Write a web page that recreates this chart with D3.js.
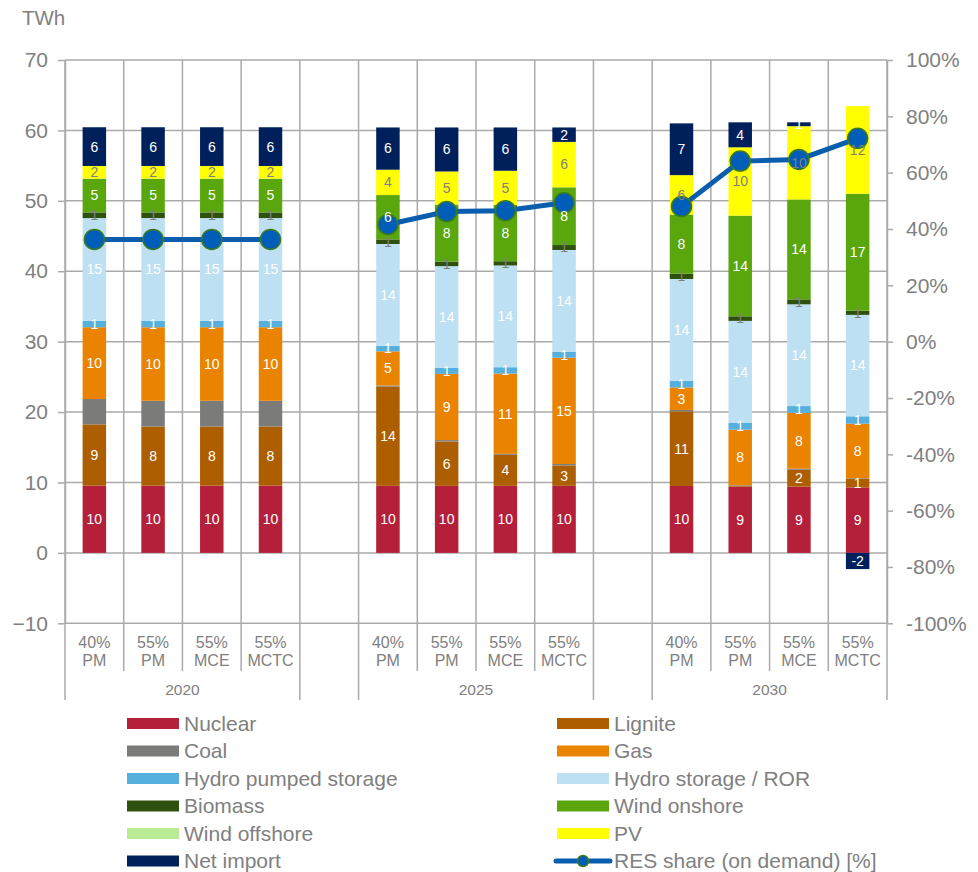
<!DOCTYPE html>
<html>
<head>
<meta charset="utf-8">
<script src="https://cdn.jsdelivr.net/npm/d3@7"></script>
<style>
  html, body { margin: 0; padding: 0; background: #fff; }
  svg { display: block; font-family: "Liberation Sans", Arial, sans-serif; }
</style>
</head>
<body>
<svg id="chart" width="978" height="872"></svg>
<script>
// ---------- DATA ----------
const years = ["2020", "2025", "2030"];
const scenarioTop = ["40%", "55%", "55%", "55%"];
const scenarioBottom = ["PM", "PM", "MCE", "MCTC"];

const seriesKeys = ["nuclear", "lignite", "coal", "gas", "hps", "hydro", "biomass", "windOn", "windOff", "pv", "netImport"];
const seriesNames = ["Nuclear", "Lignite", "Coal", "Gas", "Hydro pumped storage", "Hydro storage / ROR",
                     "Biomass", "Wind onshore", "Wind offshore", "PV", "Net import"];
const seriesColors = ["#B41F3A", "#AD5F00", "#7B7B79", "#E98300", "#56B0DE", "#BDE0F2",
                      "#2E5110", "#59A60D", "#B8EB94", "#FFFF00", "#00205B"];

// 12 bars: 2020 (40% PM, 55% PM, 55% MCE, 55% MCTC), 2025 (...), 2030 (...)
const nuclear   = [9.55, 9.55, 9.55, 9.55, 9.52, 9.52, 9.52, 9.52, 9.5, 9.4, 9.4, 9.3];
const lignite   = [8.7, 8.4, 8.4, 8.4, 14.1, 6.3, 4.4, 2.9, 10.6, 0.1, 2.4, 1.2];
const coal      = [3.6, 3.65, 3.65, 3.65, 0.15, 0.2, 0.15, 0.2, 0.2, 0.1, 0.15, 0.1];
const gas       = [10.2, 10.45, 10.45, 10.45, 4.85, 9.4, 11.4, 15.1, 3.2, 7.9, 7.95, 7.75];
const hps       = [0.9, 0.9, 0.9, 0.9, 0.8, 0.85, 0.9, 0.85, 0.95, 1.0, 0.95, 1.05];
const hydro     = [14.6, 14.6, 14.6, 14.6, 14.45, 14.45, 14.45, 14.45, 14.45, 14.45, 14.45, 14.4];
const biomass   = [0.8, 0.8, 0.8, 0.8, 0.65, 0.65, 0.6, 0.7, 0.75, 0.65, 0.7, 0.6];
const windOn    = [4.8, 4.8, 4.8, 4.8, 6.3, 8.1, 8.0, 8.2, 8.4, 14.3, 14.2, 16.6];
const windOff   = [0, 0, 0, 0, 0, 0, 0, 0, 0, 0, 0, 0];
const pv        = [1.8, 1.8, 1.8, 1.8, 3.6, 4.7, 4.85, 6.45, 5.6, 9.7, 10.4, 12.45];
const netImport = [5.5, 5.5, 5.5, 5.5, 6.0, 6.25, 6.15, 2.05, 7.35, 3.55, 0.55, -2.3];
const resShare  = [36.3, 36.3, 36.3, 36.3, 41.6, 46.2, 46.5, 49.3, 48.0, 64.1, 64.7, 72.2];

const leftTicks = [-10, 0, 10, 20, 30, 40, 50, 60, 70];
const rightTicks = [-100, -80, -60, -40, -20, 0, 20, 40, 60, 80, 100];
const unitLabel = "TWh";
const resLegendLabel = "RES share (on demand) [%]";
const noLabelSeries = ["coal", "windOff"];
const grayLabelSeries = ["pv", "biomass"];

// ---------- LAYOUT ----------
const svg = d3.select("#chart");
const X0 = 65, X1 = 887, YTOP = 60, YBOT = 623.3;
const gridColor = "#AAAAAA";
const textColor = "#808080";

const slots = [];
const barKeys = [];
years.forEach((yr, gi) => {
  scenarioTop.forEach((s, si) => { const k = yr + "|" + si; slots.push(k); barKeys.push(k); });
  if (gi < years.length - 1) slots.push("gap" + gi);
});

const x = d3.scaleBand().domain(slots).range([X0, X1]).paddingInner(0.6).paddingOuter(0.3);
const step = x.step(), bw = x.bandwidth();
const y = d3.scaleLinear().domain([-10, 70]).range([YBOT, YTOP]);
const y2 = d3.scaleLinear().domain([-100, 100]).range([YBOT, YTOP]);

const seriesArrays = { nuclear, lignite, coal, gas, hps, hydro, biomass, windOn, windOff, pv, netImport };
const rows = barKeys.map((k, i) => {
  const r = { key: k };
  seriesKeys.forEach(s => r[s] = seriesArrays[s][i]);
  return r;
});
const stacked = d3.stack().keys(seriesKeys).offset(d3.stackOffsetDiverging)(rows);
const color = d3.scaleOrdinal().domain(seriesKeys).range(seriesColors);

// ---------- GRID ----------
const grid = svg.append("g");
grid.selectAll("line.h").data(leftTicks).join("line")
  .attr("x1", X0).attr("x2", X1)
  .attr("y1", d => y(d)).attr("y2", d => y(d))
  .attr("stroke", gridColor).attr("stroke-width", 1.5);

// slot boundaries
const bounds = slots.map(s => x(s) + bw / 2 - step / 2);
bounds.push(X1);
const groupBounds = new Set();
groupBounds.add(0); groupBounds.add(slots.length);
slots.forEach((s, i) => { if (s.startsWith("gap")) { groupBounds.add(i); groupBounds.add(i + 1); } });
grid.selectAll("line.v").data(bounds).join("line")
  .attr("x1", d => d).attr("x2", d => d)
  .attr("y1", YTOP)
  .attr("y2", (d, i) => groupBounds.has(i) ? 700 : 671)
  .attr("stroke", gridColor).attr("stroke-width", 1.5);

// ---------- AXES ----------
const leftAxis = svg.append("g").attr("transform", `translate(${X0},0)`)
  .call(d3.axisLeft(y).tickValues(leftTicks).tickSizeInner(7).tickSizeOuter(0).tickPadding(10));
const rightAxis = svg.append("g").attr("transform", `translate(${X1},0)`)
  .call(d3.axisRight(y2).tickValues(rightTicks).tickSizeInner(6).tickSizeOuter(0).tickPadding(13).tickFormat(d => d + "%"));
[leftAxis, rightAxis].forEach(a => {
  a.select(".domain").attr("stroke", gridColor).attr("stroke-width", 1.5);
  a.selectAll(".tick line").attr("stroke", gridColor).attr("stroke-width", 1.5);
  a.selectAll(".tick text").attr("fill", textColor).attr("font-size", 21)
    .attr("font-family", "'Liberation Sans', Arial, sans-serif");
});

svg.append("text").attr("x", 22).attr("y", 25).attr("fill", textColor)
  .attr("font-size", 20.5).text(unitLabel);

// ---------- BARS ----------
const barsG = svg.append("g");
barsG.selectAll("g.series").data(stacked).join("g")
  .attr("fill", d => color(d.key))
  .selectAll("rect").data(d => d).join("rect")
  .attr("x", d => x(d.data.key))
  .attr("width", bw)
  .attr("y", d => y(Math.max(d[0], d[1])))
  .attr("height", d => Math.abs(y(d[0]) - y(d[1])));

// ---------- RES LINE ----------
const lineG = svg.append("g");
const line = d3.line().x(d => x(d.key) + bw / 2).y(d => y2(d.v));
years.forEach((yr, gi) => {
  const pts = barKeys.map((k, i) => ({ key: k, v: resShare[i] })).filter(p => p.key.startsWith(yr + "|"));
  lineG.append("path").attr("d", line(pts)).attr("fill", "none")
    .attr("stroke", "#0B5DAE").attr("stroke-width", 5);
});
lineG.selectAll("circle").data(barKeys.map((k, i) => ({ key: k, v: resShare[i] }))).join("circle")
  .attr("cx", d => x(d.key) + bw / 2).attr("cy", d => y2(d.v)).attr("r", 10)
  .attr("fill", "#005EB8").attr("stroke", "#3D7A1F").attr("stroke-width", 1.5);

// ---------- SEGMENT LABELS ----------
const labG = svg.append("g");
stacked.forEach(ser => {
  if (noLabelSeries.includes(ser.key)) return;
  ser.forEach(d => {
    const v = d.data[ser.key];
    const r = Math.round(v);
    if (r === 0) return;
    labG.append("text")
      .attr("x", x(d.data.key) + bw / 2)
      .attr("y", y((d[0] + d[1]) / 2))
      .attr("dy", "0.35em")
      .attr("text-anchor", "middle")
      .attr("font-size", 14)
      .attr("fill", grayLabelSeries.includes(ser.key) ? "#7F7F7F" : "#FFFFFF")
      .text(r);
  });
});

// ---------- CATEGORY LABELS ----------
const catG = svg.append("g").attr("fill", textColor).attr("font-size", 16).attr("text-anchor", "middle");
barKeys.forEach(k => {
  const si = +k.split("|")[1];
  const cx = x(k) + bw / 2;
  catG.append("text").attr("x", cx).attr("y", 648).text(scenarioTop[si]);
  catG.append("text").attr("x", cx).attr("y", 666).text(scenarioBottom[si]);
});
years.forEach(yr => {
  const ks = barKeys.filter(k => k.startsWith(yr + "|"));
  const cx = (x(ks[0]) + x(ks[ks.length - 1]) + bw) / 2;
  catG.append("text").attr("x", cx).attr("y", 695).attr("font-size", 15.5).text(yr);
});

// ---------- LEGEND ----------
const legG = svg.append("g");
const colX = [127, 557], rowY0 = 723.5, rowH = 27.5;
const legendItems = seriesKeys.map((k, i) => ({ key: k, name: seriesNames[i], color: seriesColors[i] }));
legendItems.forEach((it, i) => {
  const cx = colX[i % 2], cy = rowY0 + Math.floor(i / 2) * rowH;
  legG.append("rect").attr("x", cx).attr("y", cy - 5.5).attr("width", 52).attr("height", 11).attr("fill", it.color);
  legG.append("text").attr("x", cx + 57).attr("y", cy).attr("dy", "0.35em")
    .attr("font-size", 21).attr("fill", textColor).text(it.name);
});
{
  const i = legendItems.length;
  const cx = colX[i % 2], cy = rowY0 + Math.floor(i / 2) * rowH;
  legG.append("line").attr("x1", cx - 1).attr("x2", cx + 53).attr("y1", cy).attr("y2", cy)
    .attr("stroke", "#0B5DAE").attr("stroke-width", 5).attr("stroke-linecap", "round");
  legG.append("circle").attr("cx", cx + 26).attr("cy", cy).attr("r", 5.5)
    .attr("fill", "#005EB8").attr("stroke", "#3D7A1F").attr("stroke-width", 1.5);
  legG.append("text").attr("x", cx + 57).attr("y", cy).attr("dy", "0.35em")
    .attr("font-size", 21).attr("fill", textColor).text(resLegendLabel);
}
</script>
</body>
</html>
